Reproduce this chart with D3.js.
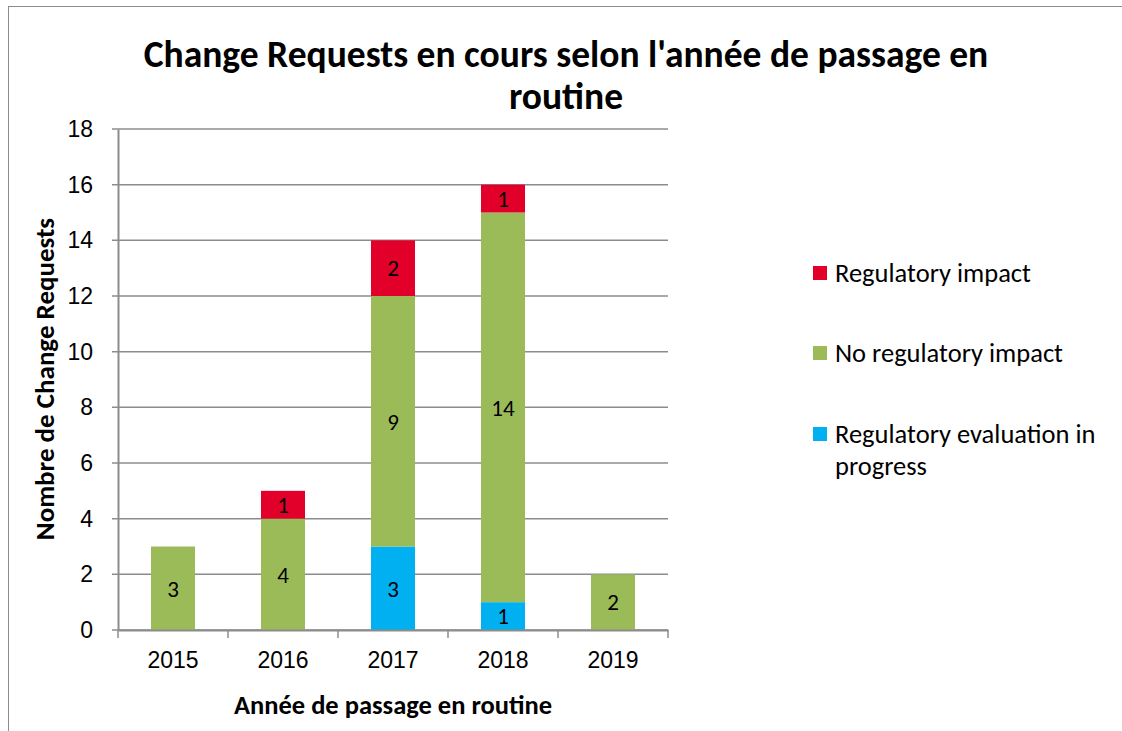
<!DOCTYPE html>
<html>
<head>
<meta charset="utf-8">
<script src="https://cdn.jsdelivr.net/npm/d3@7"></script>
<style>
  body { margin: 0; background: #fff; }
  svg { display: block; font-family: Carlito, Lato, "Open Sans", sans-serif; }
</style>
</head>
<body>
<div class="chart"></div>
<script>
// chart size
const svgWidth = 1122;
const svgHeight = 731;

const margin = { top: 129, right: 454, bottom: 101, left: 118 };
const width = svgWidth - margin.left - margin.right;
const height = svgHeight - margin.top - margin.bottom;

// data
const years = ["2015", "2016", "2017", "2018", "2019"];
const evaluationInProgress = [0, 0, 3, 1, 0];
const noRegulatoryImpact = [3, 4, 9, 14, 2];
const regulatoryImpact = [0, 1, 2, 1, 0];
const seriesNames = ["Regulatory evaluation in progress", "No regulatory impact", "Regulatory impact"];
const seriesColors = ["#00B0F0", "#9BBB59", "#E2002B"];
const yTicks = [0, 2, 4, 6, 8, 10, 12, 14, 16, 18];

const rows = years.map((y, i) => ({
  year: y,
  [seriesNames[0]]: evaluationInProgress[i],
  [seriesNames[1]]: noRegulatoryImpact[i],
  [seriesNames[2]]: regulatoryImpact[i]
}));
const stacked = d3.stack().keys(seriesNames)(rows);

const svg = d3.select(".chart")
  .append("svg")
  .attr("width", svgWidth)
  .attr("height", svgHeight);

// outer frame
svg.append("rect")
  .attr("x", 8.5).attr("y", 6.5)
  .attr("width", svgWidth - 8).attr("height", svgHeight)
  .attr("fill", "none").attr("stroke", "#8c8c8c");

const g = svg.append("g")
  .attr("transform", `translate(${margin.left}, ${margin.top})`);

// scales
const xScale = d3.scaleBand().domain(years).range([0, width]).paddingInner(0.6).paddingOuter(0.3);
const yScale = d3.scaleLinear().domain([0, 18]).range([height, 0]);

// gridlines
g.selectAll(".grid").data(yTicks).enter().append("line")
  .attr("x1", -6).attr("x2", width)
  .attr("y1", d => yScale(d)).attr("y2", d => yScale(d))
  .attr("stroke", "#8c8c8c").attr("stroke-width", 1.5);

// bars
const layers = g.selectAll(".layer").data(stacked).enter().append("g")
  .attr("fill", (d, i) => seriesColors[i]);

layers.selectAll("rect").data(d => d.filter(s => s[1] - s[0] > 0)).enter().append("rect")
  .attr("x", d => xScale(d.data.year))
  .attr("y", d => yScale(d[1]))
  .attr("width", xScale.bandwidth())
  .attr("height", d => yScale(d[0]) - yScale(d[1]));

layers.selectAll("text").data(d => d.filter(s => s[1] - s[0] > 0)).enter().append("text")
  .attr("x", d => xScale(d.data.year) + xScale.bandwidth() / 2)
  .attr("y", d => (yScale(d[0]) + yScale(d[1])) / 2)
  .attr("dy", "0.36em")
  .attr("text-anchor", "middle")
  .attr("fill", "#000")
  .attr("font-size", 23)
  .text(d => d[1] - d[0]);

// y axis
const yAxis = g.append("g")
  .call(d3.axisLeft(yScale).tickValues(yTicks).tickSize(0).tickPadding(25));
yAxis.select(".domain").attr("stroke", "#8c8c8c").attr("stroke-width", 2);
yAxis.selectAll("text").attr("font-size", 23).attr("fill", "#000").attr("font-family", null);

// x axis
const xAxis = g.append("g")
  .attr("transform", `translate(0, ${height})`)
  .call(d3.axisBottom(xScale).tickSize(0).tickPadding(22));
xAxis.select(".domain").attr("stroke", "#8c8c8c").attr("stroke-width", 2);
xAxis.selectAll("text").attr("font-size", 23).attr("fill", "#000").attr("font-family", null);
// ticks between categories
const bounds = d3.range(years.length + 1).map(i => i * width / years.length);
xAxis.selectAll(".sep").data(bounds).enter().append("line")
  .attr("x1", d => d).attr("x2", d => d)
  .attr("y1", 0).attr("y2", 8)
  .attr("stroke", "#8c8c8c").attr("stroke-width", 1.5);

// title
svg.append("text")
  .attr("text-anchor", "middle").attr("font-weight", "bold").attr("font-size", 37.5)
  .selectAll("tspan")
  .data(["Change Requests en cours selon l'année de passage en", "routine"])
  .enter().append("tspan")
  .attr("x", 566)
  .attr("y", (d, i) => 67 + i * 42)
  .text(d => d);

// axis titles
svg.append("text")
  .attr("x", 393).attr("y", 714)
  .attr("text-anchor", "middle").attr("font-weight", "bold").attr("font-size", 26.5)
  .text("Année de passage en routine");

svg.append("text")
  .attr("transform", "translate(54, 379) rotate(-90)")
  .attr("text-anchor", "middle").attr("font-weight", "bold").attr("font-size", 27)
  .text("Nombre de Change Requests");

// legend
const legendItems = [
  { color: seriesColors[2], lines: ["Regulatory impact"], y: 273 },
  { color: seriesColors[1], lines: ["No regulatory impact"], y: 353 },
  { color: seriesColors[0], lines: ["Regulatory evaluation in", "progress"], y: 434 }
];
const legend = svg.append("g").selectAll("g").data(legendItems).enter().append("g");
legend.append("rect")
  .attr("x", 813).attr("y", d => d.y - 7)
  .attr("width", 14).attr("height", 14)
  .attr("fill", d => d.color);
legend.append("text")
  .attr("font-size", 26.5)
  .selectAll("tspan").data(d => d.lines.map((l, i) => ({ l, y: d.y + i * 32 })))
  .enter().append("tspan")
  .attr("x", 835).attr("y", d => d.y).attr("dy", "0.35em")
  .text(d => d.l);
</script>
</body>
</html>
